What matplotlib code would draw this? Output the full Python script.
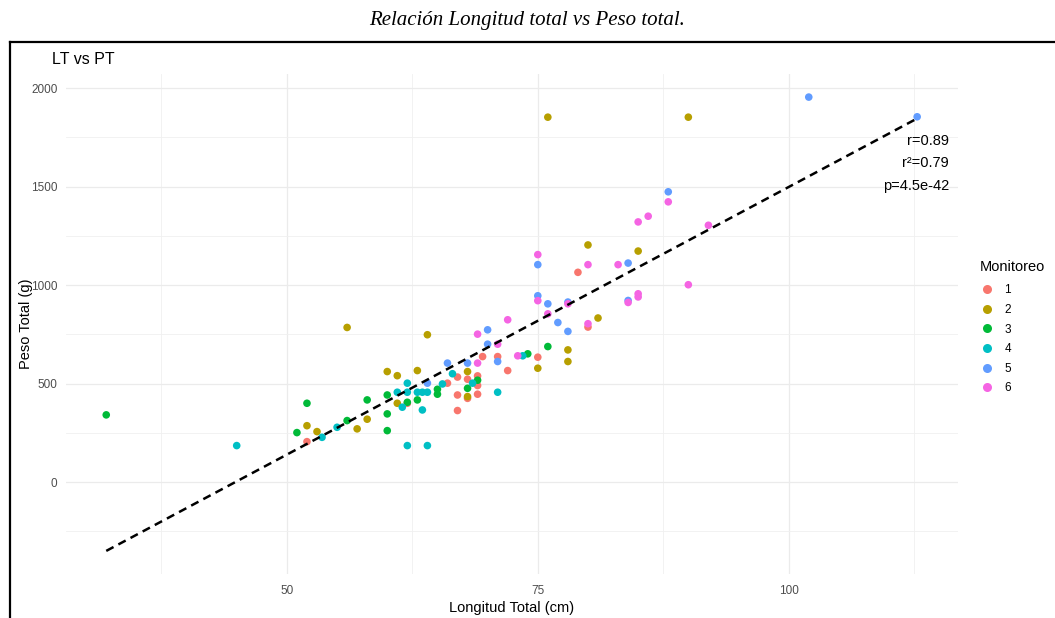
import numpy as np
import matplotlib
matplotlib.use("Agg")
import matplotlib.pyplot as plt
from matplotlib.lines import Line2D

# ---------------- data ----------------
lt_1 = [52, 62, 66, 67, 67, 67, 68, 68, 69, 69, 69, 69.5, 71, 72, 75, 79, 80]
pt_1 = [205, 400, 502, 533, 442, 363, 522, 425, 539, 490, 446, 637, 637, 566, 634, 1065, 787]

lt_2 = [52, 53, 56, 57, 58, 60, 61, 61, 63, 64, 68, 68, 75, 76, 78, 78, 80, 81, 85, 90]
pt_2 = [286, 256, 785, 270, 319, 561, 540, 400, 566, 748, 561, 434, 578, 1853, 671, 612, 1204, 833, 1173, 1853]

lt_3 = [32, 51, 52, 56, 58, 60, 60, 60, 62, 63, 65, 65, 68, 69, 74, 76]
pt_3 = [341, 251, 400, 312, 417, 442, 346, 261, 405, 417, 471, 446, 476, 517, 651, 688]

lt_4 = [45, 53.5, 55, 61, 61.5, 62, 62, 62, 63, 63.5, 63.5, 64, 64, 65.5, 66.5, 68.5, 71, 73.5]
pt_4 = [185, 227, 278, 456, 380, 502, 456, 185, 456, 456, 366, 456, 185, 498, 550, 502, 456, 641]

lt_5 = [64, 66, 68, 70, 70, 71, 75, 75, 76, 77, 78, 78, 84, 84, 88, 102, 112.8]
pt_5 = [502, 604, 604, 773, 700, 612, 946, 1104, 905, 810, 914, 765, 1112, 922, 1474, 1955, 1855]

lt_6 = [69, 69, 71, 72, 73, 75, 75, 76, 78, 80, 80, 83, 84, 85, 85, 85, 86, 88, 90, 92]
pt_6 = [751, 604, 700, 824, 641, 921, 1155, 854, 905, 1104, 804, 1104, 912, 956, 940, 1321, 1350, 1423, 1002, 1304]

groups = ["1", "2", "3", "4", "5", "6"]
lt_groups = [lt_1, lt_2, lt_3, lt_4, lt_5, lt_6]
pt_groups = [pt_1, pt_2, pt_3, pt_4, pt_5, pt_6]
colors = ["#F8766D", "#B79F00", "#00BA38", "#00BFC4", "#619CFF", "#F564E3"]

x_ticks = [50, 75, 100]
y_ticks = [0, 500, 1000, 1500, 2000]
stats_text = ["r=0.89", "r\u00b2=0.79", "p=4.5e-42"]

main_title = "Relación Longitud total vs Peso total."
plot_title = "LT vs PT"
x_label = "Longitud Total (cm)"
y_label = "Peso Total (g)"
legend_title = "Monitoreo"

# ---------------- figure ----------------
W, H = 1055, 618
fig = plt.figure(figsize=(W / 100, H / 100), dpi=100)
fig.patch.set_facecolor("white")

def fx(px):
    return px / W

def fy(py):
    return 1 - py / H

left, right, top, bottom = 65.7, 957.7, 74.4, 573.6
ax = fig.add_axes([fx(left), fy(bottom), (right - left) / W, (bottom - top) / H])
ax.set_facecolor("white")

for lt, pt, c in zip(lt_groups, pt_groups, colors):
    ax.scatter(lt, pt, s=30, color=c, edgecolors="none", zorder=3)

# linear fit
all_x = np.concatenate([np.asarray(v, float) for v in lt_groups])
all_y = np.concatenate([np.asarray(v, float) for v in pt_groups])
slope, intercept = np.polyfit(all_x, all_y, 1)
xs = np.linspace(all_x.min(), all_x.max(), 100)
ys = slope * xs + intercept
ax.plot(xs, ys, color="black", lw=1.8, linestyle=(0, (3.3, 2.2)), zorder=4,
        solid_capstyle="butt", dash_capstyle="butt")

# limits like ggplot (5% expansion)
xmin, xmax = all_x.min(), all_x.max()
ymin = min(all_y.min(), ys.min())
ymax = max(all_y.max(), ys.max())
dx = (xmax - xmin) * 0.05
dy = (ymax - ymin) * 0.05
ax.set_xlim(xmin - dx, xmax + dx)
ax.set_ylim(ymin - dy, ymax + dy)

ax.set_xticks(x_ticks)
ax.set_yticks(y_ticks)
ax.set_xticks([37.5, 62.5, 87.5, 112.5], minor=True)
ax.set_yticks([-250, 250, 750, 1250, 1750], minor=True)
ax.grid(True, which="major", color="#EBEBEB", lw=0.9, zorder=0)
ax.grid(True, which="minor", color="#F0F0F0", lw=0.6, zorder=0)
ax.tick_params(which="both", length=0)
ax.tick_params(axis="x", pad=8, labelsize=8.5, labelcolor="#4D4D4D")
ax.tick_params(axis="y", pad=6, labelsize=8.5, labelcolor="#4D4D4D")
for s in ax.spines.values():
    s.set_visible(False)
for lab in ax.get_xticklabels() + ax.get_yticklabels():
    lab.set_fontfamily("Liberation Sans")

ax.set_xlabel(x_label, fontsize=10.5, family="Liberation Sans", labelpad=3)
ax.set_ylabel(y_label, fontsize=10.5, family="Liberation Sans")
ax.yaxis.set_label_coords((33 - left) / (right - left), 0.5)

# stats annotation
for txt, py in zip(stats_text, [141, 163, 186]):
    ax.text((949 - left) / (right - left), (bottom - py) / (bottom - top), txt,
            transform=ax.transAxes, ha="right", va="center", fontsize=10.5,
            family="Liberation Sans", color="black", zorder=5)

# titles
fig.text(fx(527), fy(20), main_title, ha="center", va="center", fontsize=15,
         family="Liberation Serif", style="italic")
fig.text(fx(52), fy(60), plot_title, ha="left", va="center", fontsize=11.5,
         family="Liberation Sans")

# legend
handles = [Line2D([0], [0], marker="o", linestyle="none", markersize=6.5,
                  markerfacecolor=c, markeredgecolor="none") for c in colors]
leg = fig.legend(handles, groups, title=legend_title, loc="upper left",
                 bbox_to_anchor=(fx(980), fy(260)), frameon=False,
                 prop={"family": "Liberation Sans", "size": 8.5},
                 title_fontproperties={"family": "Liberation Sans", "size": 10.5},
                 labelspacing=0.64, handletextpad=0.85, handlelength=1.2,
                 borderaxespad=0, borderpad=0)
leg._legend_box.align = "left"
leg._legend_box.sep = 7.5

# document frame
fig.add_artist(Line2D([fx(10), fx(10)], [fy(42), 0], color="black", lw=1.6))
fig.add_artist(Line2D([fx(10), 1], [fy(42), fy(42)], color="black", lw=1.6))

fig.savefig("out.png", dpi=100, facecolor="white")
